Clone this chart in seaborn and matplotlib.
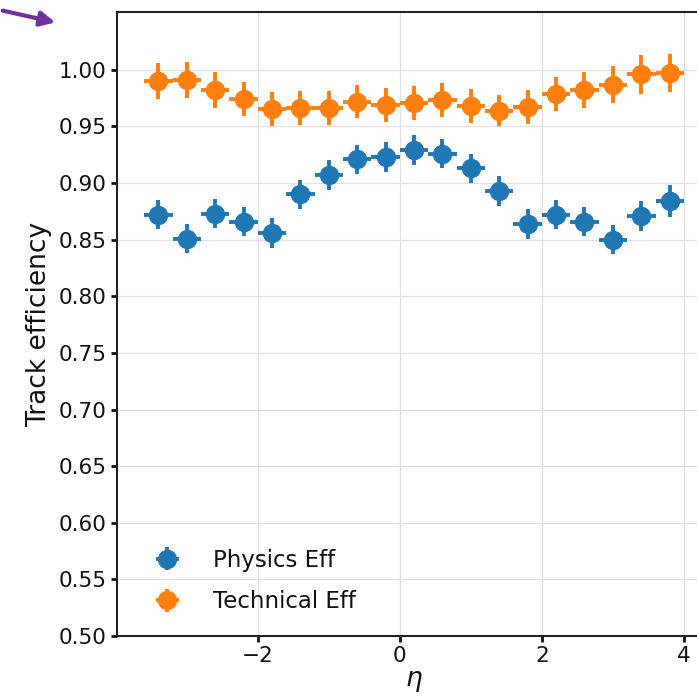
import matplotlib
matplotlib.use("Agg")
import matplotlib.pyplot as plt
import seaborn as sns
import numpy as np

# eta bin centres and half widths
eta = [-3.4, -3.0, -2.6, -2.2, -1.8, -1.4, -1.0, -0.6, -0.2, 0.2,
       0.6, 1.0, 1.4, 1.8, 2.2, 2.6, 3.0, 3.4, 3.8]
eta_half = 0.2

physics_eff = [0.872, 0.851, 0.873, 0.866, 0.856, 0.890, 0.907, 0.921, 0.923, 0.929,
               0.926, 0.913, 0.893, 0.864, 0.872, 0.866, 0.850, 0.871, 0.884]
physics_err = [0.013, 0.013, 0.013, 0.013, 0.013, 0.013, 0.013, 0.013, 0.013, 0.013,
               0.013, 0.013, 0.013, 0.013, 0.013, 0.013, 0.013, 0.013, 0.014]

technical_eff = [0.990, 0.991, 0.982, 0.974, 0.965, 0.966, 0.966, 0.972, 0.969, 0.971,
                 0.973, 0.968, 0.964, 0.967, 0.979, 0.982, 0.987, 0.996, 0.997]
technical_err = [0.016, 0.016, 0.016, 0.015, 0.015, 0.015, 0.015, 0.015, 0.015, 0.015,
                 0.015, 0.015, 0.014, 0.015, 0.015, 0.016, 0.016, 0.017, 0.017]

sns.set_theme(style="ticks")
plt.rcParams['font.family'] = ['DejaVu Sans']
colors = sns.color_palette("tab10")

fig = plt.figure(figsize=(6.97, 7.0), dpi=100)
ax = fig.add_axes([0.168, 0.0914, 0.852, 0.8914])

ax.errorbar(eta, physics_eff, xerr=eta_half, yerr=physics_err, fmt='o',
            color=colors[0], markersize=13, elinewidth=2.8, capsize=0,
            label='Physics Eff')
ax.errorbar(eta, technical_eff, xerr=eta_half, yerr=technical_err, fmt='o',
            color=colors[1], markersize=13, elinewidth=2.8, capsize=0,
            label='Technical Eff')

ax.set_ylim(0.5, 1.051)
ax.set_xlim(-3.98, 4.38)
ax.set_yticks(np.arange(0.5, 1.001, 0.05))
ax.set_xticks([-2, 0, 2, 4])
ax.grid(True, color='#e0e0e0', linewidth=0.9)
ax.set_axisbelow(True)
for s in ax.spines.values():
    s.set_color('#222222')
    s.set_linewidth(1.5)
ax.spines['right'].set_visible(False)
ax.tick_params(labelsize=15.5, length=4, width=2, color='#111111',
               labelcolor='#111111')
ax.set_ylabel('Track efficiency', fontsize=19, color='#111111', labelpad=5)
ax.set_xlabel(r'$\eta$', fontsize=19, labelpad=1, color='#111111')
ax.legend(loc='lower left', bbox_to_anchor=(0.007, 0.0), frameon=False,
          fontsize=16.5, numpoints=1, handletextpad=1.0, labelspacing=0.8,
          borderaxespad=0.6, labelcolor='#111111')

# purple pointer arrow in the top-left corner
fig.patches.append(matplotlib.patches.FancyArrowPatch(
    (0, 690), (58, 677), transform=None, arrowstyle='-|>',
    mutation_scale=22, color='#7030a0', linewidth=3))

fig.savefig('out.png', dpi=100)
